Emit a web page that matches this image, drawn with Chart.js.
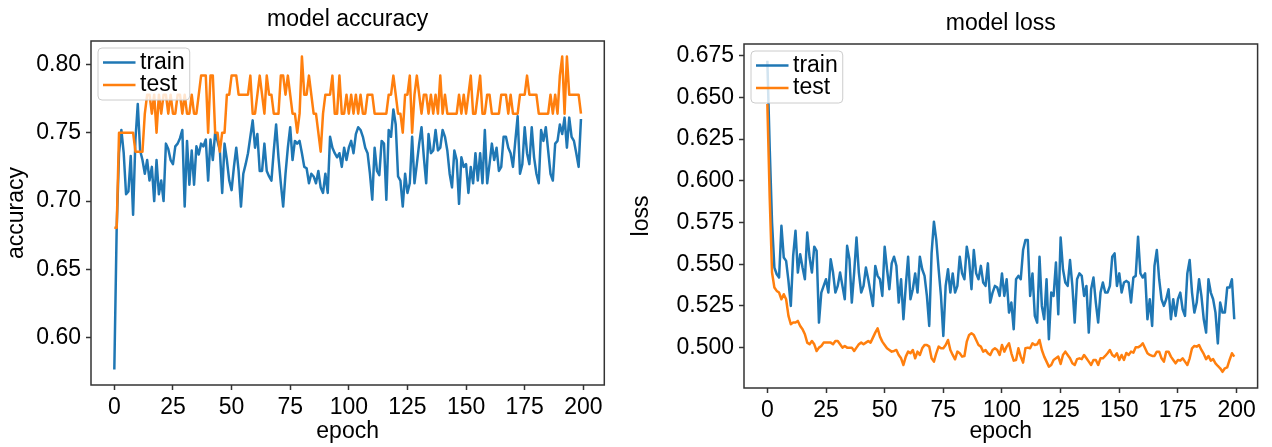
<!DOCTYPE html>
<html>
<head>
<meta charset="utf-8">
<title>model accuracy / model loss</title>
<script src="https://cdn.jsdelivr.net/npm/chart.js@4.4.1/dist/chart.umd.min.js"></script>
<style>
  body { margin: 0; background: #fff; width: 1272px; height: 447px; overflow: hidden; position: relative; }
  canvas { position: absolute; top: 0; }
  #accChart { left: 0; }
  #lossChart { left: 620px; }
</style>
</head>
<body>
<canvas id="accChart" width="620" height="447"></canvas>
<canvas id="lossChart" width="652" height="447"></canvas>
<script>
// epoch index, 0..199
const epochs = Array.from({ length: 200 }, (_, i) => i);

const accTrain = [
  0.577, 0.680, 0.735, 0.752, 0.735, 0.705, 0.707, 0.733, 0.690, 0.745,
  0.771, 0.737, 0.730, 0.720, 0.730, 0.715, 0.725, 0.700, 0.730, 0.705,
  0.715, 0.700, 0.742, 0.738, 0.730, 0.727, 0.740, 0.742, 0.746, 0.752,
  0.696, 0.744, 0.712, 0.737, 0.712, 0.740, 0.734, 0.742, 0.740, 0.745,
  0.715, 0.745, 0.730, 0.750, 0.744, 0.737, 0.706, 0.742, 0.730, 0.715,
  0.708, 0.725, 0.739, 0.722, 0.696, 0.720, 0.727, 0.735, 0.747, 0.759,
  0.739, 0.749, 0.722, 0.722, 0.742, 0.722, 0.718, 0.715, 0.737, 0.756,
  0.732, 0.713, 0.696, 0.720, 0.739, 0.754, 0.730, 0.744, 0.742, 0.744,
  0.735, 0.725, 0.724, 0.713, 0.720, 0.718, 0.713, 0.722, 0.710, 0.706,
  0.720, 0.706, 0.747, 0.739, 0.735, 0.732, 0.735, 0.725, 0.739, 0.730,
  0.739, 0.744, 0.735, 0.749, 0.754, 0.752, 0.747, 0.739, 0.735, 0.720,
  0.701, 0.739, 0.722, 0.719, 0.744, 0.742, 0.701, 0.752, 0.747, 0.767,
  0.756, 0.718, 0.715, 0.696, 0.720, 0.706, 0.713, 0.747, 0.713, 0.727,
  0.742, 0.754, 0.732, 0.713, 0.749, 0.735, 0.737, 0.752, 0.737, 0.739,
  0.752, 0.747, 0.737, 0.720, 0.710, 0.737, 0.730, 0.698, 0.732, 0.725,
  0.727, 0.706, 0.725, 0.713, 0.735, 0.715, 0.735, 0.713, 0.752, 0.713,
  0.727, 0.742, 0.730, 0.739, 0.722, 0.725, 0.747, 0.747, 0.739, 0.735,
  0.725, 0.744, 0.762, 0.720, 0.727, 0.754, 0.735, 0.727, 0.754, 0.732,
  0.720, 0.713, 0.752, 0.744, 0.754, 0.737, 0.720, 0.715, 0.742, 0.744,
  0.756, 0.749, 0.761, 0.739, 0.761, 0.747, 0.744, 0.735, 0.725, 0.760
];

const accTest = [
  0.6806, 0.6806, 0.7500, 0.7500, 0.7500, 0.7500, 0.7500, 0.7500, 0.7500, 0.7361,
  0.7361, 0.7361, 0.7361, 0.7639, 0.7778, 0.7778, 0.7639, 0.7778, 0.7500, 0.7778,
  0.7639, 0.7778, 0.7778, 0.7639, 0.7778, 0.7639, 0.7639, 0.7778, 0.7778, 0.7639,
  0.7778, 0.7639, 0.7639, 0.7778, 0.7639, 0.7639, 0.7778, 0.7917, 0.7917, 0.7917,
  0.7500, 0.7917, 0.7917, 0.7500, 0.7500, 0.7361, 0.7500, 0.7500, 0.7778, 0.7778,
  0.7917, 0.7917, 0.7917, 0.7778, 0.7778, 0.7778, 0.7778, 0.7778, 0.7917, 0.7639,
  0.7639, 0.7778, 0.7917, 0.7778, 0.7639, 0.7917, 0.7778, 0.7778, 0.7639, 0.7639,
  0.7639, 0.7917, 0.7917, 0.7778, 0.7917, 0.7778, 0.7639, 0.7639, 0.7500, 0.7639,
  0.8056, 0.7778, 0.7778, 0.7917, 0.7778, 0.7639, 0.7639, 0.7500, 0.7361, 0.7639,
  0.7778, 0.7778, 0.7778, 0.7917, 0.7639, 0.7639, 0.7917, 0.7639, 0.7639, 0.7778,
  0.7639, 0.7778, 0.7639, 0.7778, 0.7639, 0.7778, 0.7639, 0.7639, 0.7778, 0.7778,
  0.7778, 0.7639, 0.7639, 0.7639, 0.7639, 0.7639, 0.7639, 0.7778, 0.7778, 0.7917,
  0.7778, 0.7639, 0.7639, 0.7500, 0.7778, 0.7778, 0.7917, 0.7500, 0.7778, 0.7917,
  0.7778, 0.7639, 0.7778, 0.7778, 0.7639, 0.7778, 0.7639, 0.7778, 0.7639, 0.7917,
  0.7639, 0.7778, 0.7639, 0.7639, 0.7639, 0.7639, 0.7639, 0.7778, 0.7639, 0.7778,
  0.7639, 0.7778, 0.7917, 0.7639, 0.7639, 0.7778, 0.7917, 0.7639, 0.7639, 0.7778,
  0.7778, 0.7639, 0.7639, 0.7639, 0.7639, 0.7778, 0.7778, 0.7778, 0.7639, 0.7778,
  0.7639, 0.7639, 0.7639, 0.7778, 0.7778, 0.7778, 0.7917, 0.7778, 0.7778, 0.7778,
  0.7778, 0.7639, 0.7639, 0.7639, 0.7639, 0.7639, 0.7778, 0.7639, 0.7778, 0.7639,
  0.7917, 0.8056, 0.7639, 0.8056, 0.7778, 0.7778, 0.7778, 0.7778, 0.7778, 0.7639
];

const lossTrain = [
  0.672, 0.620, 0.575, 0.548, 0.544, 0.542, 0.573, 0.554, 0.552, 0.540,
  0.525, 0.555, 0.570, 0.545, 0.556, 0.548, 0.541, 0.569, 0.554, 0.545,
  0.5605, 0.558, 0.515, 0.533, 0.537, 0.541, 0.533, 0.553, 0.545, 0.533,
  0.537, 0.545, 0.537, 0.529, 0.561, 0.553, 0.527, 0.545, 0.566, 0.545,
  0.533, 0.537, 0.548, 0.541, 0.533, 0.525, 0.549, 0.543, 0.541, 0.531,
  0.5605, 0.547, 0.535, 0.5505, 0.5545, 0.549, 0.527, 0.541, 0.517, 0.537,
  0.5545, 0.529, 0.535, 0.5445, 0.533, 0.5545, 0.547, 0.543, 0.531, 0.513,
  0.5565, 0.5755, 0.5645, 0.547, 0.531, 0.507, 0.537, 0.547, 0.533, 0.5445,
  0.533, 0.537, 0.5545, 0.5445, 0.541, 0.5605, 0.5525, 0.535, 0.5585, 0.5445,
  0.541, 0.549, 0.539, 0.537, 0.5505, 0.527, 0.533, 0.537, 0.536, 0.531,
  0.5445, 0.531, 0.541, 0.521, 0.527, 0.511, 0.541, 0.543, 0.541, 0.5585,
  0.5645, 0.5645, 0.531, 0.5445, 0.519, 0.515, 0.5545, 0.525, 0.517, 0.541,
  0.505, 0.533, 0.531, 0.551, 0.520, 0.566, 0.547, 0.539, 0.537, 0.5525,
  0.537, 0.515, 0.541, 0.5445, 0.543, 0.531, 0.537, 0.509, 0.535, 0.542,
  0.527, 0.515, 0.533, 0.539, 0.533, 0.533, 0.537, 0.5545, 0.5565, 0.537,
  0.5445, 0.533, 0.539, 0.540, 0.539, 0.527, 0.542, 0.543, 0.5665, 0.5445,
  0.542, 0.5445, 0.517, 0.529, 0.513, 0.549, 0.5585, 0.541, 0.529, 0.525,
  0.529, 0.535, 0.517, 0.529, 0.519, 0.529, 0.533, 0.523, 0.519, 0.5445,
  0.5525, 0.533, 0.521, 0.527, 0.541, 0.531, 0.517, 0.509, 0.541, 0.533,
  0.529, 0.521, 0.5025, 0.527, 0.521, 0.521, 0.536, 0.536, 0.541, 0.517
];

const lossTest = [
  0.646, 0.590, 0.545, 0.536, 0.534, 0.533, 0.529, 0.532, 0.529, 0.519,
  0.514, 0.515, 0.515, 0.516, 0.513, 0.511, 0.508, 0.503, 0.502, 0.504,
  0.502, 0.498, 0.500, 0.501, 0.503, 0.503, 0.503, 0.503, 0.502, 0.504,
  0.504, 0.502, 0.500, 0.501, 0.500, 0.500, 0.500, 0.498, 0.500, 0.502,
  0.503, 0.502, 0.503, 0.504, 0.503, 0.506, 0.509, 0.5116, 0.5066, 0.5036,
  0.5016, 0.4996, 0.4986, 0.4976, 0.498, 0.4986, 0.4956, 0.4936, 0.4896, 0.4946,
  0.4976, 0.4966, 0.4986, 0.4936, 0.4976, 0.4956, 0.4996, 0.5016, 0.5016, 0.5006,
  0.4936, 0.4916, 0.4966, 0.5006, 0.4996, 0.4996, 0.5016, 0.5046, 0.4986, 0.4956,
  0.4930, 0.4976, 0.4966, 0.4946, 0.4950, 0.5036, 0.5076, 0.5086, 0.5076, 0.5046,
  0.5016, 0.5006, 0.4976, 0.4986, 0.4966, 0.4956, 0.4986, 0.4996, 0.4986, 0.4956,
  0.5016, 0.4976, 0.5006, 0.5026, 0.4966, 0.4922, 0.4926, 0.4996, 0.4946, 0.4910,
  0.4996, 0.5000, 0.4996, 0.5026, 0.5016, 0.5020, 0.5046, 0.4986, 0.4946, 0.4916,
  0.4886, 0.4896, 0.4926, 0.4936, 0.4946, 0.4902, 0.4956, 0.4976, 0.4956, 0.4936,
  0.4906, 0.4896, 0.4931, 0.4936, 0.4931, 0.4956, 0.4936, 0.4916, 0.4896, 0.4926,
  0.4926, 0.4896, 0.4936, 0.4936, 0.4950, 0.4966, 0.4986, 0.4956, 0.4946, 0.4966,
  0.4926, 0.4956, 0.4926, 0.4968, 0.4956, 0.4976, 0.4970, 0.5002, 0.5002, 0.5010,
  0.5026, 0.4996, 0.4966, 0.4956, 0.4950, 0.4950, 0.4976, 0.4976, 0.4936, 0.4916,
  0.4976, 0.4976, 0.4946, 0.4926, 0.4906, 0.4926, 0.4922, 0.4936, 0.4916, 0.4896,
  0.4936, 0.4996, 0.5010, 0.5006, 0.5016, 0.4986, 0.4962, 0.4931, 0.4950, 0.4922,
  0.4931, 0.4906, 0.4890, 0.4876, 0.4855, 0.4876, 0.4882, 0.4926, 0.4966, 0.4946
];

const xTicks = [0, 25, 50, 75, 100, 125, 150, 175, 200];
const accTicks = [0.60, 0.65, 0.70, 0.75, 0.80];
const lossTicks = [0.500, 0.525, 0.550, 0.575, 0.600, 0.625, 0.650, 0.675];

const FONT = "'Liberation Sans', Arial, sans-serif";
Chart.defaults.font.family = FONT;
Chart.defaults.font.size = 23;
Chart.defaults.color = '#000';

// axes box (all four spines) and the legend inside the plot, like matplotlib
const framePlugin = {
  id: 'frame',
  afterDatasetsDraw(chart, args, opts) {
    const ctx = chart.ctx;
    const a = chart.chartArea;
    ctx.save();
    ctx.strokeStyle = '#333';
    ctx.lineWidth = 1.5;
    ctx.strokeRect(a.left, a.top, a.right - a.left, a.bottom - a.top);

    ctx.font = '23px ' + FONT;
    const sets = chart.data.datasets;
    const textW = Math.max(...sets.map(d => ctx.measureText(d.label).width));
    const bx = a.left + opts.dx;
    const by = a.top + opts.dy;
    const bw = 42 + textW + 5;
    const bh = 52;
    ctx.beginPath();
    if (ctx.roundRect) {
      ctx.roundRect(bx, by, bw, bh, 4);
    } else {
      ctx.rect(bx, by, bw, bh);
    }
    ctx.fillStyle = 'rgba(255,255,255,0.8)';
    ctx.fill();
    ctx.strokeStyle = '#cccccc';
    ctx.lineWidth = 1;
    ctx.stroke();

    sets.forEach((d, i) => {
      const y = by + 14.5 + i * 22.5;
      ctx.strokeStyle = d.borderColor;
      ctx.lineWidth = d.borderWidth;
      ctx.beginPath();
      ctx.moveTo(bx + 5, y);
      ctx.lineTo(bx + 37.5, y);
      ctx.stroke();
      ctx.fillStyle = '#000';
      ctx.textBaseline = 'middle';
      ctx.textAlign = 'left';
      ctx.fillText(d.label, bx + 42, y);
    });
    ctx.restore();
  }
};

function tickGrid() {
  return {
    display: true,
    drawOnChartArea: false,
    drawTicks: true,
    tickLength: 5,
    tickColor: '#333',
    tickWidth: 1.5
  };
}

function makeChart(id, cfg) {
  return new Chart(document.getElementById(id), {
    type: 'line',
    data: {
      labels: epochs,
      datasets: [
        {
          label: 'train',
          data: cfg.train,
          borderColor: '#1f77b4',
          borderWidth: 2.5,
          borderJoinStyle: 'round',
          pointRadius: 0,
          tension: 0,
          order: 1
        },
        {
          label: 'test',
          data: cfg.test,
          borderColor: '#ff7f0e',
          borderWidth: 2.5,
          borderJoinStyle: 'round',
          pointRadius: 0,
          tension: 0,
          order: 0
        }
      ]
    },
    options: {
      responsive: false,
      animation: false,
      devicePixelRatio: 1,
      layout: { padding: { left: 0, right: cfg.padRight, top: 0, bottom: 0 } },
      plugins: {
        legend: { display: false },
        tooltip: { enabled: false },
        title: {
          display: true,
          text: cfg.title,
          fullSize: false,
          color: '#000',
          font: { size: 23, weight: 'normal' },
          padding: cfg.titlePad
        },
        frame: { dx: 7, dy: 7 }
      },
      scales: {
        x: {
          type: 'linear',
          min: -9.95,
          max: 208.95,
          afterBuildTicks: (scale) => { scale.ticks = xTicks.map(v => ({ value: v })); },
          afterFit: (scale) => { scale.height = cfg.xAxisH; },
          grid: tickGrid(),
          border: { display: false },
          ticks: {
            padding: 4,
            autoSkip: false,
            maxRotation: 0,
            minRotation: 0,
            color: '#000',
            callback: (v) => String(v)
          },
          title: {
            display: true,
            text: 'epoch',
            color: '#000',
            font: { size: 23 },
            padding: { top: 0, bottom: 1.2 }
          }
        },
        y: {
          type: 'linear',
          min: cfg.yMin,
          max: cfg.yMax,
          afterBuildTicks: (scale) => { scale.ticks = cfg.yTicks.map(v => ({ value: v })); },
          afterFit: (scale) => { scale.width = cfg.yAxisW; },
          grid: tickGrid(),
          border: { display: false },
          ticks: {
            padding: 5,
            color: '#000',
            callback: (v) => Number(v).toFixed(cfg.decimals)
          },
          title: {
            display: true,
            text: cfg.yLabel,
            color: '#000',
            font: { size: 23 },
            padding: { top: cfg.yTitlePad, bottom: 0 }
          }
        }
      }
    },
    plugins: [framePlugin]
  });
}

makeChart('accChart', {
  title: 'model accuracy',
  yLabel: 'accuracy',
  train: accTrain,
  test: accTest,
  yTicks: accTicks,
  decimals: 2,
  yMin: 0.5656,
  yMax: 0.8170,
  padRight: 15.7,
  yAxisW: 91,
  xAxisH: 62,
  titlePad: { top: 5.7, bottom: 7.7 },
  yTitlePad: 3.2
});

makeChart('lossChart', {
  title: 'model loss',
  yLabel: 'loss',
  train: lossTrain,
  test: lossTest,
  yTicks: lossTicks,
  decimals: 3,
  yMin: 0.4758,
  yMax: 0.6820,
  padRight: 14.4,
  yAxisW: 124,
  xAxisH: 59,
  titlePad: { top: 9.7, bottom: 6.7 },
  yTitlePad: 7.9
});
</script>
</body>
</html>
